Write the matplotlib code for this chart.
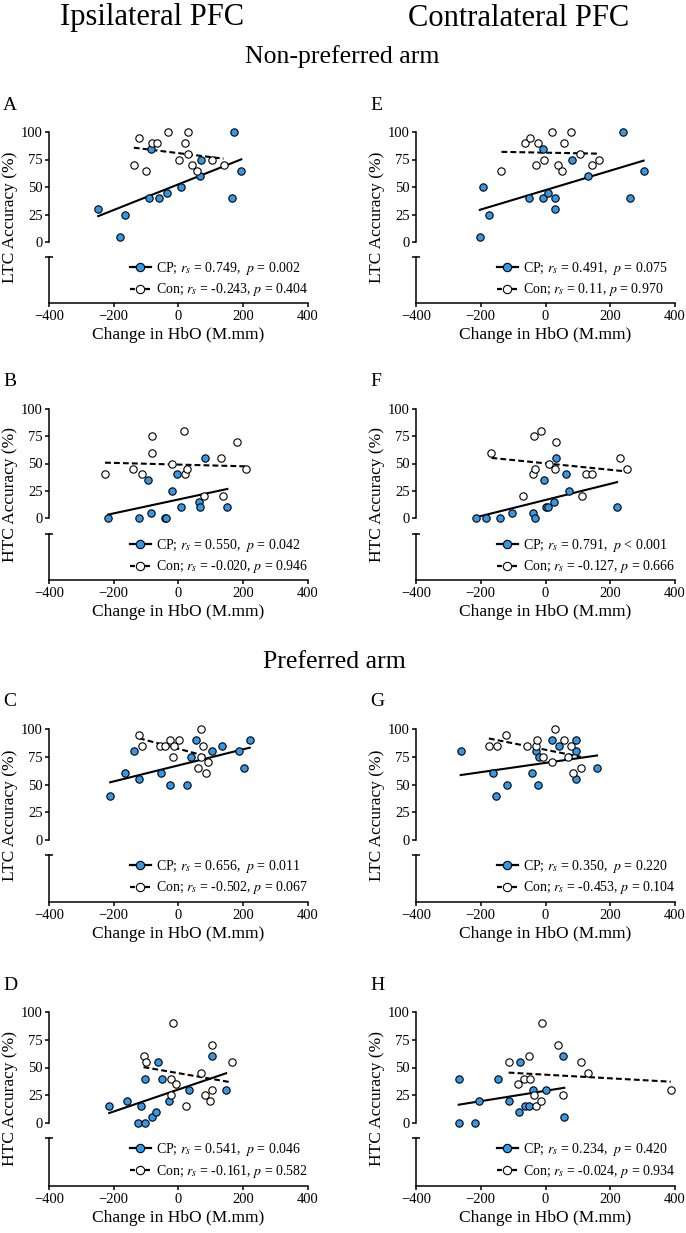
import numpy as np
import matplotlib
matplotlib.use('Agg')
import matplotlib.pyplot as plt
from matplotlib.lines import Line2D

plt.rcParams['font.family'] = ['Liberation Serif', 'DejaVu Serif']
plt.rcParams['mathtext.fontset'] = 'stix'

BLUE = '#3399e6'
W, H = 686, 1233

# ---- data ----
# A: ipsilateral PFC, non-preferred arm, LTC
a_cp_x = [-248, -182, -164, -90, -85, -59, -35, 8, 66, 68, 165, 172, 194]
a_cp_y = [30, 5, 25, 40, 85, 40, 45, 50, 60, 75, 40, 100, 65]
a_con_x = [-138, -121, -100, -83, -65, -32, 1, 21, 30, 30, 41, 58, 102, 139]
a_con_y = [70, 95, 65, 90, 90, 100, 75, 90, 100, 80, 70, 65, 75, 70]
a_stats = ['CP; $r_s$ = 0.749,  $p$ = 0.002', 'Con; $r_s$ = -0.243, $p$ = 0.404']

# B: ipsilateral PFC, non-preferred arm, HTC
b_cp_x = [-217, -123, -93, -86, -42, -38, -19, -6, 7, 63, 67, 83, 151]
b_cp_y = [0, 0, 35, 5, 0, 0, 25, 40, 10, 15, 10, 55, 10]
b_con_x = [-227, -140, -112, -83, -81, -21, 18, 21, 25, 79, 132, 137, 180, 207]
b_con_y = [40, 45, 40, 60, 75, 50, 80, 40, 45, 20, 55, 20, 70, 45]
b_stats = ['CP; $r_s$ = 0.550,  $p$ = 0.042', 'Con; $r_s$ = -0.020, $p$ = 0.946']

# C: ipsilateral PFC, preferred arm, LTC
c_cp_x = [-211, -165, -136, -121, -53, -26, 26, 40, 55, 102, 135, 187, 202, 220]
c_cp_y = [40, 60, 80, 55, 60, 50, 50, 75, 90, 80, 85, 80, 65, 90]
c_con_x = [-122, -113, -58, -41, -27, -13, -16, 3, 61, 70, 77, 68, 86, 90]
c_con_y = [95, 85, 85, 85, 90, 85, 75, 90, 65, 100, 85, 75, 60, 70]
c_stats = ['CP; $r_s$ = 0.656,  $p$ = 0.011', 'Con; $r_s$ = -0.502, $p$ = 0.067']

# D: ipsilateral PFC, preferred arm, HTC
d_cp_x = [-214, -159, -115, -104, -64, -52, -28, 32, 105, 147, -125, -105, -83, -71]
d_cp_y = [15, 20, 15, 40, 55, 40, 20, 30, 60, 30, 0, 0, 5, 10]
d_con_x = [-108, -99, -17, -24, -9, -22, 22, 71, 82, 102, 98, 105, 164]
d_con_y = [60, 55, 90, 40, 35, 25, 15, 45, 25, 30, 20, 70, 55]
d_stats = ['CP; $r_s$ = 0.541,  $p$ = 0.046', 'Con; $r_s$ = -0.161, $p$ = 0.582']

# E: contralateral PFC, non-preferred arm, LTC
e_cp_x = [-203, -192, -174, -51, -9, -7, 9, 30, 28, 82, 131, 238, 262, 303]
e_cp_y = [5, 50, 25, 40, 85, 40, 45, 40, 30, 75, 60, 100, 40, 65]
e_con_x = [-136, -63, -47, -29, -24, -6, 21, 39, 52, 56, 78, 107, 144, 165]
e_con_y = [65, 90, 95, 70, 90, 75, 100, 70, 65, 90, 100, 80, 70, 75]
e_stats = ['CP; $r_s$ = 0.491,  $p$ = 0.075', 'Con; $r_s$ = 0.11, $p$ = 0.970']

# F: contralateral PFC, non-preferred arm, HTC
f_cp_x = [-215, -185, -142, -103, -38, -32, -4, 0, 9, 27, 33, 62, 73, 221]
f_cp_y = [0, 0, 0, 5, 5, 0, 35, 10, 10, 15, 55, 40, 25, 10]
f_con_x = [-167, -39, -32, -34, -14, 12, 29, 31, -71, 114, 125, 143, 230, 253]
f_con_y = [60, 40, 45, 75, 80, 50, 45, 70, 20, 20, 40, 40, 55, 45]
f_stats = ['CP; $r_s$ = 0.791,  $p$ < 0.001', 'Con; $r_s$ = -0.127, $p$ = 0.666']

# G: contralateral PFC, preferred arm, LTC
g_cp_x = [-262, -161, -152, -119, -43, -30, -23, -19, 21, 43, 95, 95, 95, 159]
g_cp_y = [80, 60, 40, 50, 60, 80, 50, 75, 90, 85, 90, 80, 55, 65]
g_con_x = [-175, -150, -122, -58, -30, -25, -7, 19, 29, 57, 68, 80, 85, 109]
g_con_y = [85, 85, 95, 85, 85, 90, 75, 70, 100, 90, 75, 85, 60, 65]
g_stats = ['CP; $r_s$ = 0.350,  $p$ = 0.220', 'Con; $r_s$ = -0.453, $p$ = 0.104']

# H: contralateral PFC, preferred arm, HTC
h_cp_x = [-266, -268, -217, -206, -146, -113, -80, -81, -63, -50, -40, 1, 54, 58]
h_cp_y = [40, 0, 0, 20, 40, 20, 55, 10, 15, 15, 30, 30, 60, 5]
h_con_x = [-114, -84, -65, -50, -47, -36, -28, -15, -12, 39, 54, 110, 130, 387]
h_con_y = [55, 35, 40, 60, 40, 25, 15, 20, 90, 70, 25, 55, 45, 30]
h_stats = ['CP; $r_s$ = 0.234,  $p$ = 0.420', 'Con; $r_s$ = -0.024, $p$ = 0.934']

# layout in pixels
col_left = [49, 416]
ax_w = 259
# (y of 100, y of 0, top of lower part, bottom spine)
rows = [(132, 242, 257, 303), (409, 518, 534, 580), (729, 840, 855, 902), (1012, 1123, 1138, 1186)]


def rect(x, y_top, w, h):
    return [x / W, 1 - (y_top + h) / H, w / W, h / H]


def add_panel(fig, col, row, cp_x, cp_y, con_x, con_y, stats, ylab, letter):
    x0 = col_left[col]
    y100, y0, ylow, ybot = rows[row]

    ax = fig.add_axes(rect(x0, y100, ax_w, y0 - y100))
    ax.set_xlim(-400, 400)
    ax.set_ylim(0, 100)
    for s in ['top', 'right', 'bottom']:
        ax.spines[s].set_visible(False)
    ax.spines['left'].set_linewidth(1.1)
    ax.set_xticks([])
    ax.set_yticks([0, 25, 50, 75, 100])
    ax.tick_params(axis='y', direction='out', length=3, width=1.1, labelsize=10.5, pad=1.5)
    ax.patch.set_alpha(0)

    # fitted lines
    for xs, ys, ls in [(cp_x, cp_y, '-'), (con_x, con_y, (0, (2.8, 1.5)))]:
        xs = np.array(xs, float)
        ys = np.array(ys, float)
        k, b = np.polyfit(xs, ys, 1)
        xx = np.array([xs.min(), xs.max()])
        ax.plot(xx, k * xx + b, color='black', lw=1.5, ls=ls, zorder=2, clip_on=False)

    ax.scatter(cp_x, cp_y, s=28, facecolor=BLUE, edgecolor='black', linewidths=0.8, zorder=3, clip_on=False)
    ax.scatter(con_x, con_y, s=28, facecolor='white', edgecolor='black', linewidths=0.8, zorder=4, clip_on=False)

    ax2 = fig.add_axes(rect(x0, ylow, ax_w, ybot - ylow))
    ax2.set_xlim(-400, 400)
    ax2.set_ylim(0, 1)
    for s in ['top', 'right']:
        ax2.spines[s].set_visible(False)
    ax2.spines['left'].set_linewidth(1.1)
    ax2.spines['bottom'].set_linewidth(1.1)
    ax2.set_yticks([1])
    ax2.set_yticklabels([''])
    ax2.tick_params(axis='y', direction='inout', length=6, width=1.1)
    ax2.set_xticks([-400, -200, 0, 200, 400])
    ax2.tick_params(axis='x', direction='out', length=3, width=1.1, labelsize=10.5, pad=2)
    ax2.set_xlabel('Change in HbO (M.mm)', fontsize=12.5, labelpad=3)
    ax2.patch.set_alpha(0)

    h_cp = Line2D([0], [0], color='black', lw=1.6, ls='-', marker='o', markersize=6,
                  markerfacecolor=BLUE, markeredgecolor='black', markeredgewidth=0.8)
    h_con = Line2D([0], [0], color='black', lw=1.6, ls=(0, (2.2, 1.2)), marker='o', markersize=6,
                   markerfacecolor='white', markeredgecolor='black', markeredgewidth=0.8)
    ax2.legend([h_cp, h_con], stats, loc='upper left', bbox_to_anchor=(81 / ax_w, 0.93),
               frameon=False, fontsize=10, borderpad=0, borderaxespad=0,
               handlelength=1.5, handletextpad=0.4, labelspacing=0.3)

    fig.text((x0 - 39) / W, 1 - ((y100 + ybot) / 2) / H, ylab, rotation=90,
             ha='center', va='center', fontsize=12.5)
    fig.text((x0 - 46) / W, 1 - (y100 - 27) / H, letter, ha='left', va='center', fontsize=14)


fig = plt.figure(figsize=(W / 100, H / 100), dpi=100)

add_panel(fig, 0, 0, a_cp_x, a_cp_y, a_con_x, a_con_y, a_stats, 'LTC Accuracy (%)', 'A')
add_panel(fig, 0, 1, b_cp_x, b_cp_y, b_con_x, b_con_y, b_stats, 'HTC Accuracy (%)', 'B')
add_panel(fig, 0, 2, c_cp_x, c_cp_y, c_con_x, c_con_y, c_stats, 'LTC Accuracy (%)', 'C')
add_panel(fig, 0, 3, d_cp_x, d_cp_y, d_con_x, d_con_y, d_stats, 'HTC Accuracy (%)', 'D')
add_panel(fig, 1, 0, e_cp_x, e_cp_y, e_con_x, e_con_y, e_stats, 'LTC Accuracy (%)', 'E')
add_panel(fig, 1, 1, f_cp_x, f_cp_y, f_con_x, f_con_y, f_stats, 'HTC Accuracy (%)', 'F')
add_panel(fig, 1, 2, g_cp_x, g_cp_y, g_con_x, g_con_y, g_stats, 'LTC Accuracy (%)', 'G')
add_panel(fig, 1, 3, h_cp_x, h_cp_y, h_con_x, h_con_y, h_stats, 'HTC Accuracy (%)', 'H')

fig.text(152 / W, 1 - 18 / H, 'Ipsilateral PFC', ha='center', va='center', fontsize=22)
fig.text(519 / W, 1 - 18 / H, 'Contralateral PFC', ha='center', va='center', fontsize=22)
fig.text(342 / W, 1 - 57 / H, 'Non-preferred arm', ha='center', va='center', fontsize=18.5)
fig.text(334 / W, 1 - 662 / H, 'Preferred arm', ha='center', va='center', fontsize=18.5)

fig.savefig('out.png', dpi=100)
